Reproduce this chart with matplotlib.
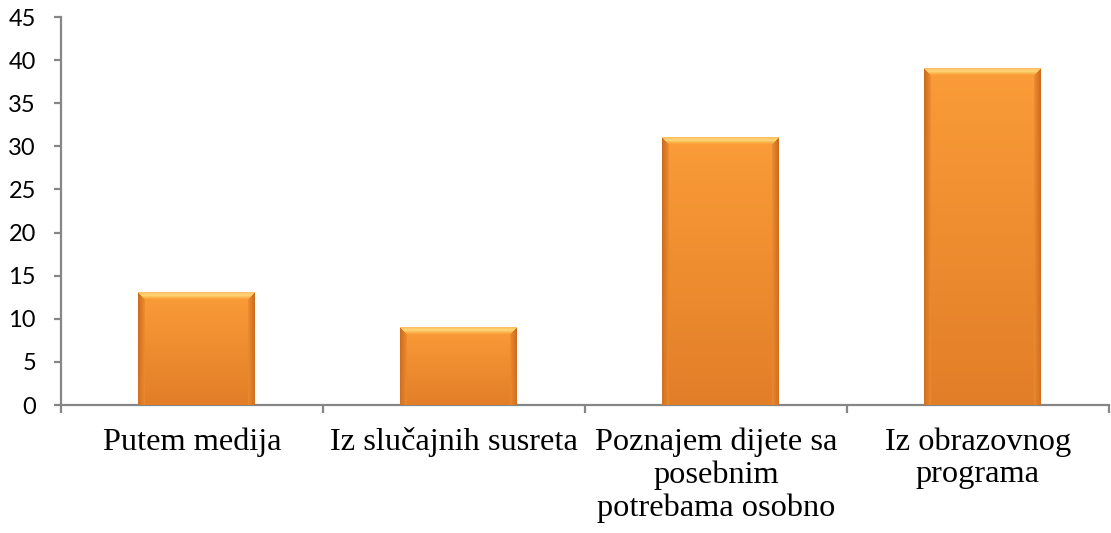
import numpy as np
import matplotlib
matplotlib.use("Agg")
import matplotlib.pyplot as plt

categories = ["Putem medija", "Iz slučajnih susreta",
              "Poznajem dijete sa\nposebnim\npotrebama osobno",
              "Iz obrazovnog\nprograma"]
values = [13, 9, 31, 39]
yticks = [0, 5, 10, 15, 20, 25, 30, 35, 40, 45]

W, H = 1111, 533
fig = plt.figure(figsize=(W / 100, H / 100), dpi=100)
ax = fig.add_axes([61 / W, (H - 405) / H, (1109 - 61) / W, (405 - 17) / H])

x = np.arange(len(values))
bars = ax.bar(x + 0.018, values, width=0.445, color="#F79432", zorder=2)
ax.set_xlim(-0.5, len(values) - 0.5)
ax.set_ylim(0, 45)


def bar_image(npx_w, npx_h, b=7):
    yy, xx = np.mgrid[0:npx_h, 0:npx_w].astype(float)
    dl = xx + 0.5
    dr = npx_w - xx - 0.5
    dt = yy + 0.5
    ds = np.minimum(dl, dr)
    t = yy / max(npx_h - 1, 1)
    body_top = np.array([250, 156, 56]) / 255
    body_bot = np.array([226, 126, 40]) / 255
    img = body_top[None, None, :] * (1 - t[..., None]) + body_bot[None, None, :] * t[..., None]
    side_out = np.array([200, 105, 30]) / 255
    side_in = np.array([240, 142, 48]) / 255
    top_col = np.array([252, 190, 95]) / 255
    top_mid = np.array([254, 214, 120]) / 255
    top_in = np.array([250, 166, 62]) / 255
    side = (ds < b) & ~((dt < b) & (dt <= ds))
    top = (dt < b) & (dt <= ds)
    f = np.clip(ds / b, 0, 1)[..., None]
    side_c = side_out * (1 - f) + side_in * f
    side_c = side_c * (1 - 0.3 * t[..., None]) + body_bot * 0.3 * t[..., None]
    ft = np.clip(dt / b, 0, 1)[..., None]
    w1 = np.clip(1 - np.abs(ft - 0.45) / 0.45, 0, 1)
    top_c = np.where(ft < 0.45,
                     top_col * (1 - w1) + top_mid * w1,
                     top_mid * w1 + top_in * (1 - w1))
    img = np.where(side[..., None], side_c, img)
    img = np.where(top[..., None], top_c, img)
    return img


for p in bars:
    x0, w, h = p.get_x(), p.get_width(), p.get_height()
    (px0, py0), (px1, py1) = ax.transData.transform([(x0, 0), (x0 + w, h)])
    nw = max(int(round(px1 - px0)), 2)
    nh = max(int(round(py1 - py0)), 2)
    img = bar_image(nw, nh)
    ax.imshow(img, extent=[x0, x0 + w, 0, h], aspect="auto", origin="upper",
              interpolation="bilinear", zorder=3)

ax.set_xlim(-0.5, len(values) - 0.5)
ax.set_ylim(0, 45)

axis_col = "#868686"
for s in ["top", "right"]:
    ax.spines[s].set_visible(False)
for s in ["left", "bottom"]:
    ax.spines[s].set_color(axis_col)
    ax.spines[s].set_linewidth(1.6)

ax.set_yticks(yticks)
ax.set_yticklabels([str(v) for v in yticks], fontfamily="Lato", fontsize=17)
ax.tick_params(axis="y", length=5, width=1.6, color=axis_col, pad=13)

ax.set_xticks(x)
ax.set_xticklabels(categories, fontfamily="Liberation Serif", fontsize=23.3,
                   linespacing=1.16)
ax.tick_params(axis="x", which="major", length=0, pad=16)
ax.set_xticks(np.arange(-0.5, len(values), 1.0), minor=True)
ax.tick_params(axis="x", which="minor", length=6, width=1.6, color=axis_col)

fig.savefig("out.png", dpi=100)
